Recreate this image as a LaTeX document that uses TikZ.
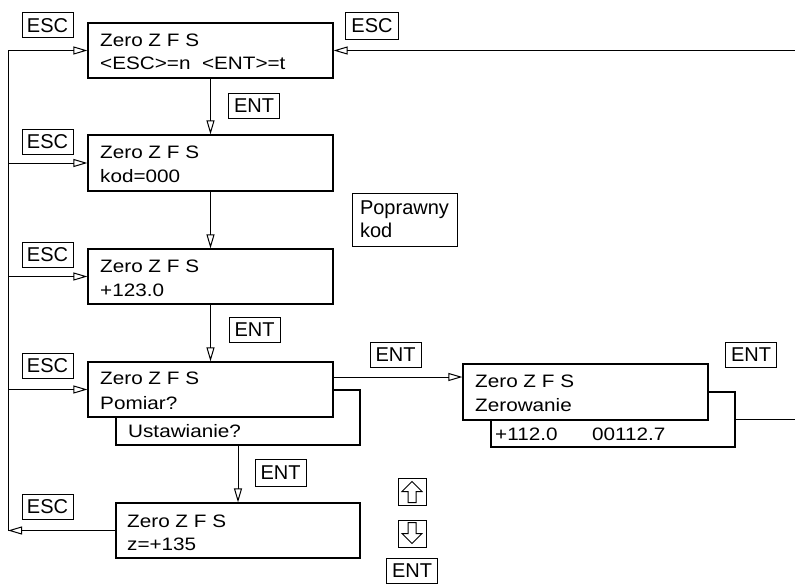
\documentclass[tikz,border=0pt]{standalone}
\usepackage{fontspec}
\setmainfont{Liberation Sans}
\newfontfamily\boxfont[FakeStretch=1.15,WordSpace=1]{Liberation Sans}
\usetikzlibrary{arrows.meta}
\begin{document}
\begin{tikzpicture}[x=1pt,y=-1pt,
  box/.style={draw, fill=white, line width=1.2pt, inner sep=0pt},
  txt/.style={anchor=base west, inner sep=0pt, font=\boxfont\fontsize{18}{20}\selectfont},
  lbl/.style={draw, line width=1pt, inner sep=0pt, minimum width=51pt, minimum height=25pt, font=\fontsize{20}{23}\selectfont},
  keybox/.style={draw, line width=1pt, inner sep=0pt, minimum width=28pt, minimum height=27pt},
  keyarrow/.style={draw, line width=1pt, line join=miter},
  conn/.style={line width=1pt},
  arr/.style={line width=1pt, -{Triangle[open, length=14pt, width=8pt]}}
]
\useasboundingbox (0,0) rectangle (795,586);
% boxes behind
\node[box, minimum width=244pt, minimum height=55pt] (u4) at (238,417.5) {};
\node[box, minimum width=244pt, minimum height=55pt] (u5) at (613,419.5) {};
% main boxes
\node[box, minimum width=245pt, minimum height=55pt] (b1) at (210.5,50.5) {};
\node[box, minimum width=245pt, minimum height=56pt] (b2) at (210.5,163) {};
\node[box, minimum width=245pt, minimum height=55pt] (b3) at (210.5,276.5) {};
\node[box, minimum width=245pt, minimum height=55pt] (b4) at (210.5,389.5) {};
\node[box, minimum width=245pt, minimum height=56pt] (b5) at (585.5,392) {};
\node[box, minimum width=244pt, minimum height=55pt] (b6) at (238,530.5) {};
% texts
\node[txt] (t1a) at (100,47) {Zero Z F S};
\node[txt] (t1b) at (100,70) {<ESC>=n\ \ <ENT>=t};
\node[txt] (t2a) at (100,158) {Zero Z F S};
\node[txt] (t2b) at (100,182) {kod=000};
\node[txt] (t3a) at (100,272) {Zero Z F S};
\node[txt] (t3b) at (100,296) {+123.0};
\node[txt] (t4a) at (100,384) {Zero Z F S};
\node[txt] (t4b) at (100,409) {Pomiar?};
\node[txt] (t4c) at (128,437) {Ustawianie?};
\node[txt] (t5a) at (475,387) {Zero Z F S};
\node[txt] (t5b) at (475,411) {Zerowanie};
\node[txt] (t5c) at (495,440) {+112.0};
\node[txt] (t5d) at (592,440) {00112.7};
\node[txt] (t6a) at (127,527) {Zero Z F S};
\node[txt] (t6b) at (127,550) {z=+135};
% labels
\node[lbl] (esc1) at (47.5,25.5) {ESC};
\node[lbl, minimum width=53pt, minimum height=27pt] (esc0) at (372,26) {ESC};
\node[lbl] (ent1) at (254,106) {ENT};
\node[lbl] (esc2) at (47.5,141.5) {ESC};
\node[lbl, minimum width=105pt, minimum height=53pt, align=left, font=\fontsize{20}{23.3}\selectfont] (pop) at (404.5,219.5) {Poprawny\\kod};
\node[lbl] (esc3) at (47.5,254.5) {ESC};
\node[lbl] (ent2) at (254.5,330) {ENT};
\node[lbl] (esc4) at (47.5,366) {ESC};
\node[lbl] (ent3) at (395.5,355) {ENT};
\node[lbl] (ent4) at (751,355) {ENT};
\node[lbl, minimum height=27pt] (ent5) at (280.5,473) {ENT};
\node[lbl] (esc6) at (47.5,506.5) {ESC};
\node[keybox] (up) at (412,491.5) {};
\node[keybox] (down) at (412,533.5) {};
\node[lbl] (ent6) at (412,570.5) {ENT};
% key arrows
\draw[keyarrow] ([yshift=10pt]up.center) -- ++(10,10) -- ++(-6,0) -- ++(0,11) -- ++(-8,0) -- ++(0,-11) -- ++(-6,0) -- cycle;
\draw[keyarrow] ([yshift=-10pt]down.center) -- ++(10,-10) -- ++(-6,0) -- ++(0,-11) -- ++(-8,0) -- ++(0,11) -- ++(-6,0) -- cycle;
% connectors
\coordinate (bt) at (8,50.5);
\coordinate (bb) at (8,530.5);
\coordinate (r1) at (795,50.5);
\coordinate (r2) at (795,419.5);
\coordinate (e4) at (333,377);
\draw[conn] (bt) -- (bb);
\draw[arr] (bt) -- (b1.west);
\draw[arr] (b2.west -| bt) -- (b2.west);
\draw[arr] (b3.west -| bt) -- (b3.west);
\draw[arr] (b4.west -| bt) -- (b4.west);
\draw[arr] (b6.west) -- (bb);
\draw[arr] (r1) -- (b1.east);
\draw[arr] (b1.south) -- (b2.north);
\draw[arr] (b2.south) -- (b3.north);
\draw[arr] (b3.south) -- (b4.north);
\draw[arr] (e4) -- (e4 -| b5.west);
\draw[arr] (u4.south) -- (b6.north);
\draw[conn] (u5.east) -- (r2);
\end{tikzpicture}
\end{document}
